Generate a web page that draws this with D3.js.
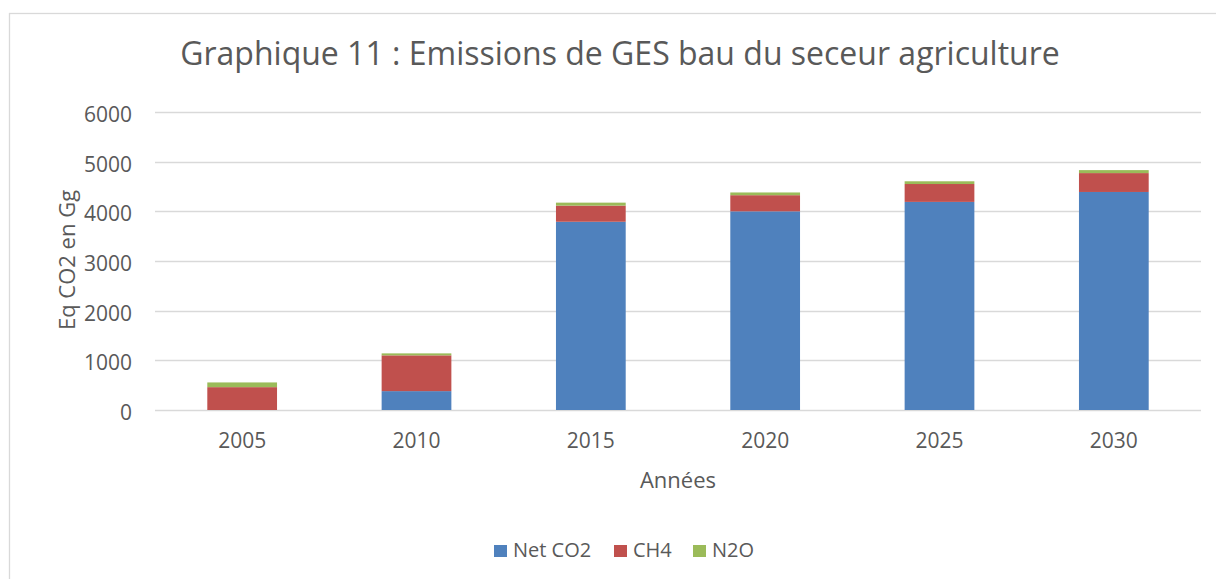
<!DOCTYPE html>
<html><head><meta charset="utf-8">
<script src="https://cdn.jsdelivr.net/npm/d3@7"></script>
<style>body{margin:0;background:#fff}svg{display:block}text{font-family:"Open Sans",sans-serif;fill:#595959}</style>
</head><body><svg id="c" width="1216" height="579"></svg>
<script>
const years = ["2005","2010","2015","2020","2025","2030"];
const netCO2 = [0, 380, 3790, 4000, 4190, 4390];
const ch4 = [460, 720, 325, 325, 360, 380];
const n2o = [95, 40, 60, 55, 55, 60];
const seriesNames = ["Net CO2","CH4","N2O"];
const colors = ["#4F81BD","#C0504D","#9BBB59"];
const yTicks = [0,1000,2000,3000,4000,5000,6000];

const svg = d3.select("#c");
svg.append("rect").attr("x",9.5).attr("y",13.5).attr("width",1220).attr("height",580)
  .attr("fill","#fff").attr("stroke","#D9D9D9").attr("stroke-width",1.3);

const pLeft=155, pRight=1201, pTop=112, pBottom=410;
const x = d3.scaleBand().domain(years).range([pLeft,pRight]).paddingInner(0.6).paddingOuter(0.3);
const y = d3.scaleLinear().domain([0,6000]).range([pBottom,pTop]);

const rows = years.map((yr,i)=>({year:yr,"Net CO2":netCO2[i],"CH4":ch4[i],"N2O":n2o[i]}));
const stack = d3.stack().keys(seriesNames)(rows);

svg.append("g").selectAll("line").data(yTicks).join("line")
  .attr("x1",pLeft).attr("x2",pRight).attr("y1",d=>Math.round(y(d))+0.5).attr("y2",d=>Math.round(y(d))+0.5)
  .attr("stroke","#D9D9D9").attr("stroke-width",1.3);

svg.append("g").selectAll("g").data(stack).join("g").attr("fill",(d,i)=>colors[i])
  .selectAll("rect").data(d=>d).join("rect")
  .attr("x",d=>x(d.data.year)).attr("width",x.bandwidth())
  .attr("y",d=>y(d[1])).attr("height",d=>Math.max(0,y(d[0])-y(d[1])));

const ya = svg.append("g").attr("transform",`translate(${pLeft},0)`)
  .call(d3.axisLeft(y).tickValues(yTicks).tickSize(0).tickPadding(23).tickFormat(d3.format("d")));
ya.select(".domain").remove();
ya.selectAll("text").style("font-size","21px").attr("fill","#595959").attr("dy","0.45em");

const xa = svg.append("g").attr("transform",`translate(0,${pBottom})`)
  .call(d3.axisBottom(x).tickSize(0).tickPadding(0));
xa.select(".domain").remove();
xa.selectAll("text").style("font-size","21px").attr("fill","#595959").attr("dy",0).attr("y",38);

svg.append("text").attr("x",620).attr("y",65).attr("text-anchor","middle").style("font-size","32px")
  .text("Graphique 11 : Emissions de GES bau du seceur agriculture");
svg.append("text").attr("transform","translate(75,260) rotate(-90)").attr("text-anchor","middle").style("font-size","22px")
  .text("Eq CO2 en Gg");
svg.append("text").attr("x",678).attr("y",488).attr("text-anchor","middle").style("font-size","22px").text("Années");

const legX = [494, 614, 693];
const lg = svg.append("g").selectAll("g").data(seriesNames).join("g")
  .attr("transform",(d,i)=>`translate(${legX[i]},557)`);
lg.append("rect").attr("x",0).attr("y",-12).attr("width",13).attr("height",12).attr("fill",(d,i)=>colors[i]);
lg.append("text").attr("x",19).attr("y",0).style("font-size","20px").text(d=>d);
</script></body></html>
